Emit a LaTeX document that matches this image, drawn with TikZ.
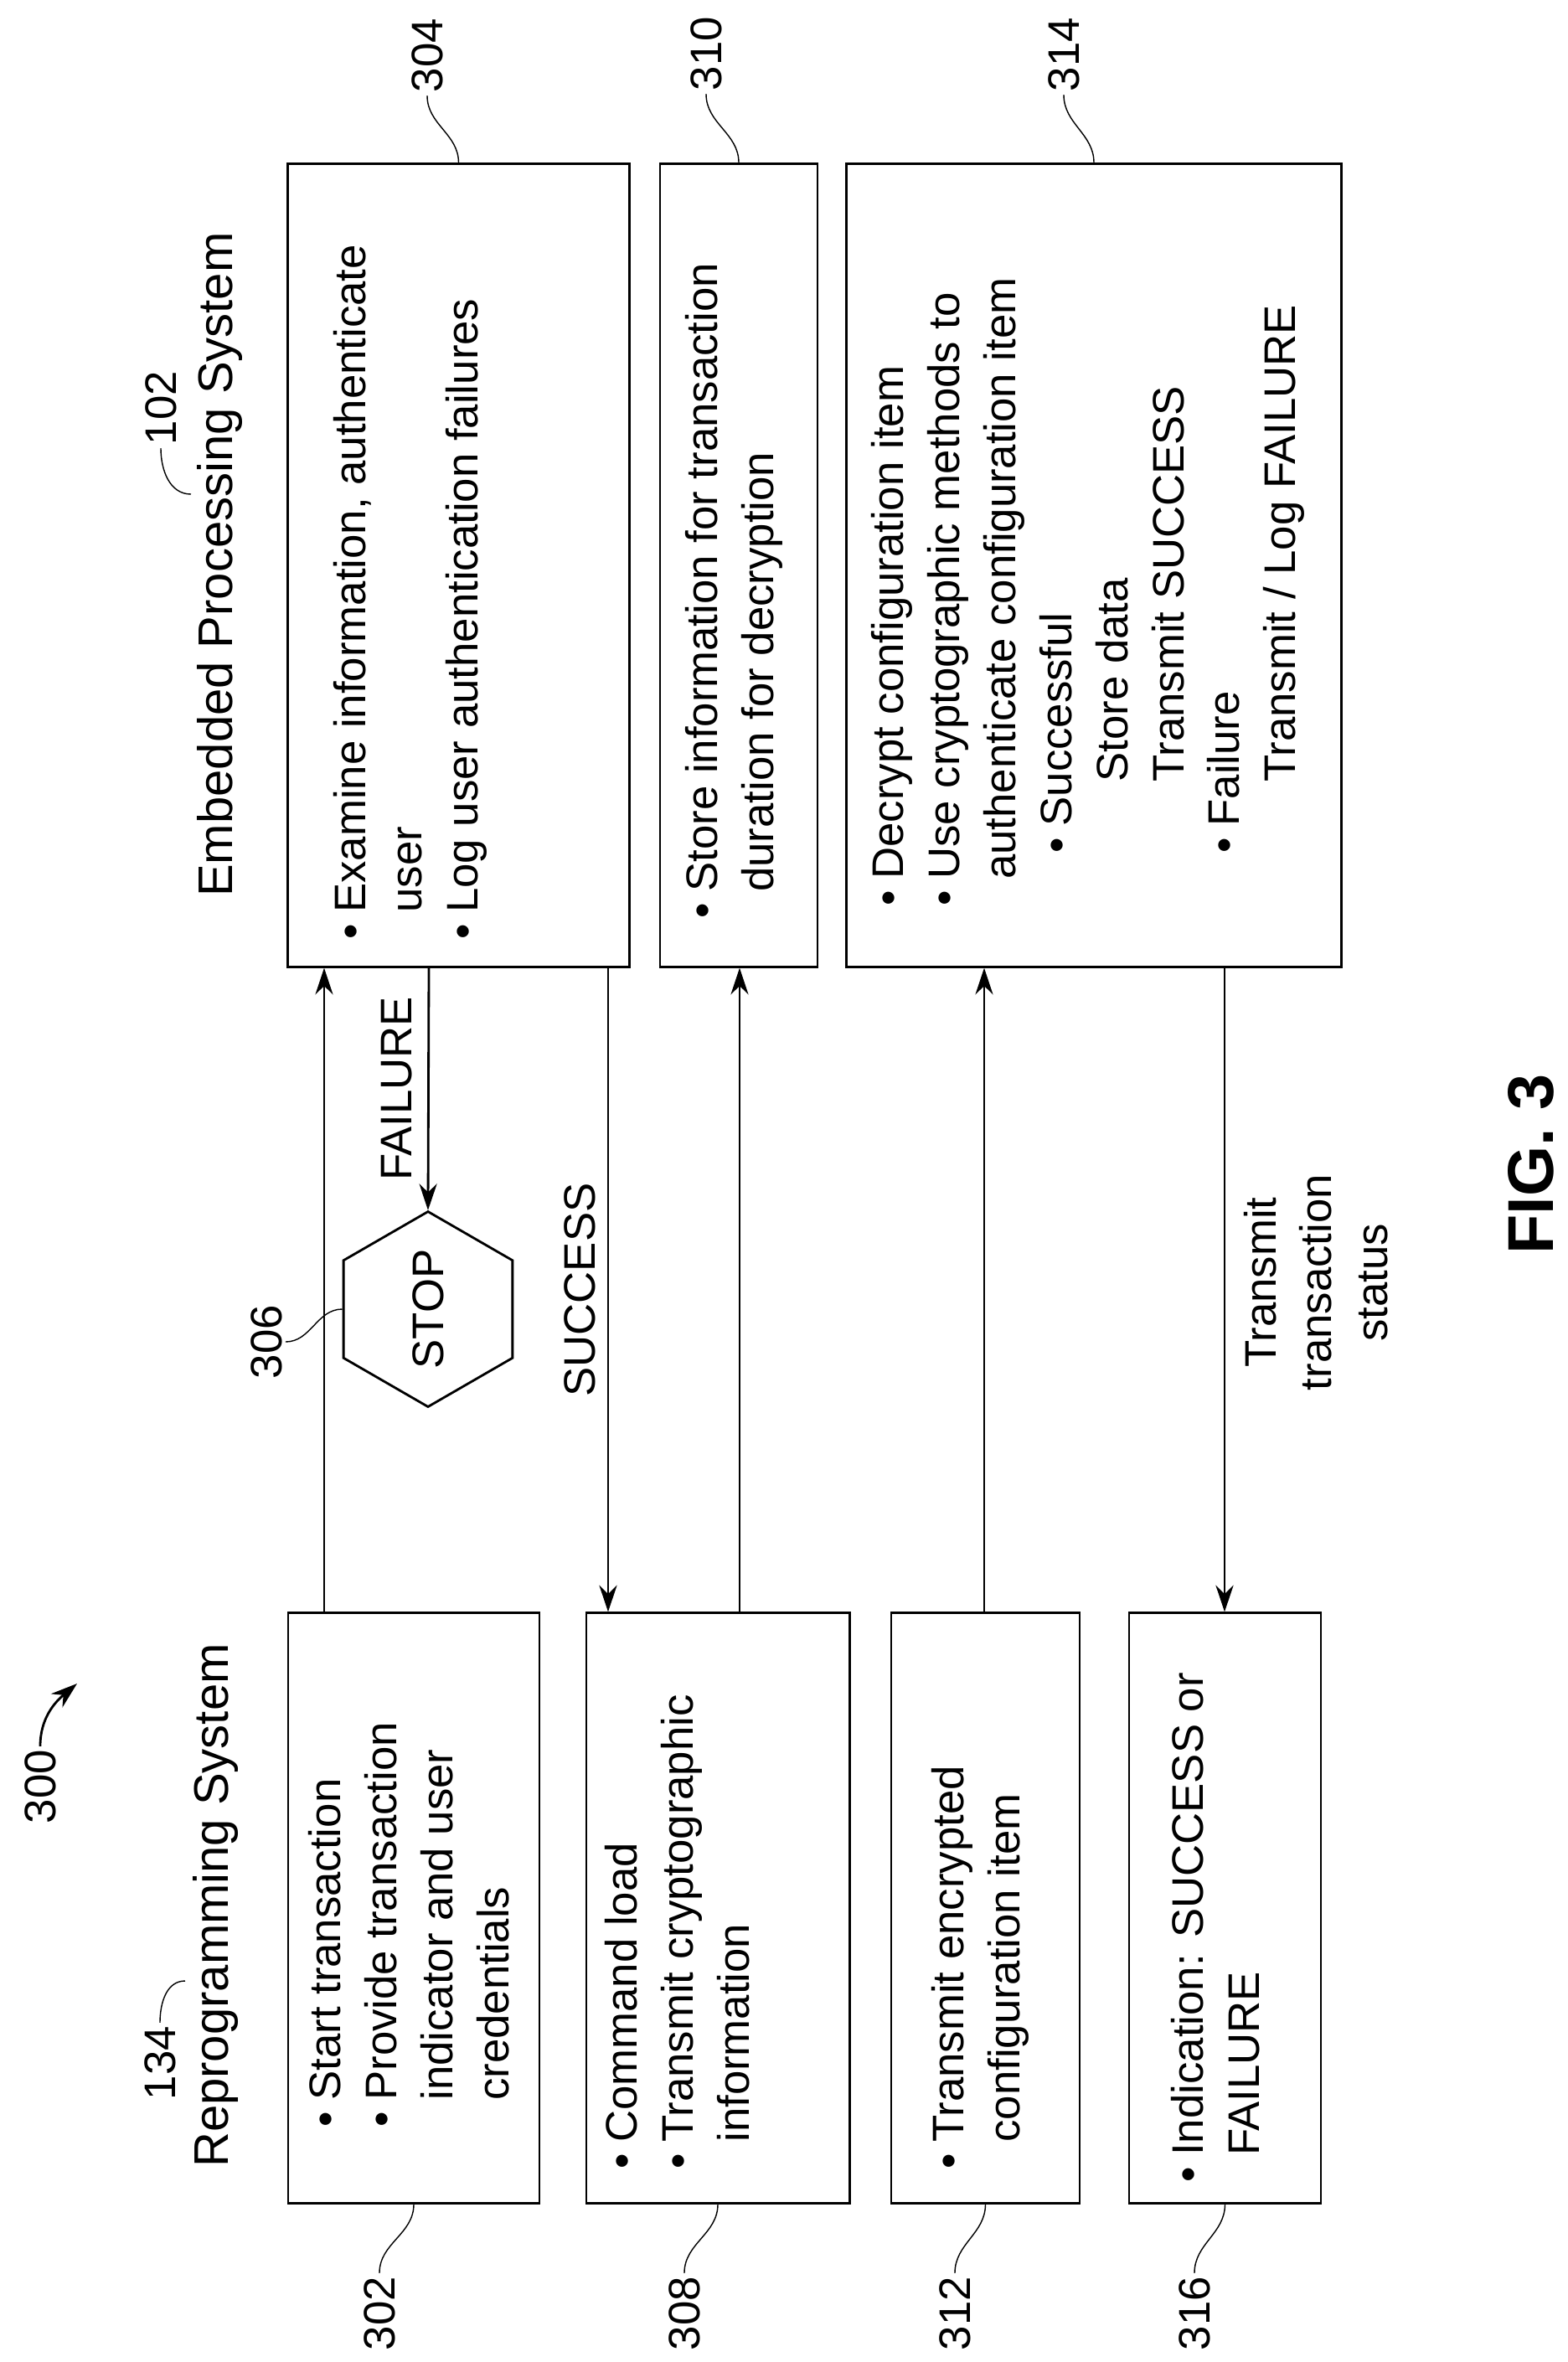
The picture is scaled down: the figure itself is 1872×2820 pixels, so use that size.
\documentclass[tikz,border=0pt]{standalone}
\usepackage{fontspec}
\setmainfont{Liberation Sans}
\usetikzlibrary{shapes.geometric,arrows.meta}

\newcommand{\bul}{\makebox[9pt][l]{\textbullet}}

\begin{document}
\begin{tikzpicture}[x=0.01cm, y=-0.01cm, >={Stealth[length=9pt,width=6pt]},
  box/.style={draw, thick, rotate=90, inner sep=0pt},
  txt/.style={rotate=90, anchor=north west, inner sep=0pt, align=left,
    font=\fontsize{15}{19}\selectfont},
  lbl/.style={rotate=90, inner sep=1pt, font=\fontsize{15}{19}\selectfont},
  ttl/.style={rotate=90, inner sep=1pt, font=\fontsize{16.5}{20}\selectfont},
  lead/.style={thin}]

\useasboundingbox (0,0) rectangle (1872,2820);

% titles
\node [ttl] (t134) at (257,2275) {Reprogramming System};
\node [ttl] (t102) at (262,674) {Embedded Processing System};
\node [lbl] (n134) at (191,2463) {134};
\node [lbl] (n102) at (192,487) {102};
\node [lbl] (n300) at (48,2133) {300};
\draw [lead] (n134.east) to[out=90,in=180] (221,2365);
\draw [lead] (n102.west) to[out=-90,in=180] (228,590);
\draw [thick,->] (n300.east) to[out=90,in=-140] (92,2010);

% reprogramming system boxes
\node [box, minimum width=7.04cm, minimum height=3.00cm] (b302) at (494,2278) {};
\node [box, minimum width=7.04cm, minimum height=3.14cm] (b308) at (857,2278) {};
\node [box, minimum width=7.04cm, minimum height=2.25cm] (b312) at (1176.5,2278) {};
\node [box, minimum width=7.04cm, minimum height=2.29cm] (b316) at (1462.5,2278) {};

% embedded processing system boxes
\node [box, minimum width=9.58cm, minimum height=4.07cm] (b304) at (547.5,675) {};
\node [box, minimum width=9.58cm, minimum height=1.88cm] (b310) at (882,675) {};
\node [box, minimum width=9.58cm, minimum height=5.90cm] (b314) at (1306,675) {};

\node [txt] (x302) at (368,2540) {\bul Start transaction\\ \bul Provide transaction\\ \hspace*{9pt}indicator and user\\ \hspace*{9pt}credentials};
\node [txt] (x308) at (722,2590) {\bul Command load\\ \bul Transmit cryptographic\\ \hspace*{9pt}information};
\node [txt] (x312) at (1112,2590) {\bul Transmit encrypted\\ \hspace*{9pt}configuration item};
\node [txt] (x316) at (1398,2606) {\bul Indication: SUCCESS or\\ \hspace*{9pt}FAILURE};
\node [txt] (x304) at (398,1122) {\bul Examine information, authenticate\\ \hspace*{9pt}user\\ \bul Log user authentication failures};
\node [txt] (x310) at (818,1097) {\bul Store information for transaction\\ \hspace*{9pt}duration for decryption};
\node [txt] (x314) at (1040,1082) {\bul Decrypt configuration item\\ \bul Use cryptographic methods to\\ \hspace*{9pt}authenticate configuration item\\ \hspace*{18pt}\bul Successful\\ \hspace*{42pt}Store data\\ \hspace*{42pt}Transmit SUCCESS\\ \hspace*{18pt}\bul Failure\\ \hspace*{42pt}Transmit / Log FAILURE};

% reference numerals
\node [lbl] (n302) at (453,2762) {302};
\node [lbl] (n308) at (817,2762) {308};
\node [lbl] (n312) at (1140,2762) {312};
\node [lbl] (n316) at (1426,2762) {316};
\node [lbl] (n304) at (510,66) {304};
\node [lbl] (n310) at (843,64) {310};
\node [lbl] (n314) at (1270,65) {314};
\foreach \n in {302,308,312,316}
  \draw [lead] (n\n.east) to[out=90,in=-90] (b\n.west);
\foreach \n in {304,310,314}
  \draw [lead] (n\n.west) to[out=-90,in=90] (b\n.east);

% stop sign
\node [draw, thick, regular polygon, regular polygon sides=6, rotate=90,
  minimum size=1.84cm, inner sep=0pt, font=\fontsize{15}{19}\selectfont] (stop) at (511,1563) {STOP};
\node [lbl] (n306) at (318,1602) {306};
\draw [lead] (n306.south) to[out=0,in=180] (stop.north);

% lanes
\coordinate (l1) at (387,0);
\coordinate (l2) at (512,0);
\coordinate (l3) at (726,0);
\coordinate (l4) at (883,0);
\coordinate (l5) at (1175,0);
\coordinate (l6) at (1462,0);

\draw [thick,->] (l1 |- b302.east) -- (l1 |- b304.west);
\draw [thick,->] (l2 |- b304.west) -- (stop.east);
\draw [thick,->] (l3 |- b304.west) -- (l3 |- b308.east);
\draw [thick,->] (l4 |- b308.east) -- (l4 |- b310.west);
\draw [thick,->] (l5 |- b312.east) -- (l5 |- b314.west);
\draw [thick,->] (l6 |- b314.west) -- (l6 |- b316.east);

\node [lbl] (failure) at (474,1300) {FAILURE};
\node [lbl] (success) at (692,1540) {SUCCESS};
\node [lbl, align=center] (status) at (1571,1531) {Transmit\\ transaction\\ status};
\node [rotate=90, font=\fontsize{22}{26}\selectfont\bfseries] (fig) at (1828,1390) {FIG. 3};

\end{tikzpicture}
\end{document}
